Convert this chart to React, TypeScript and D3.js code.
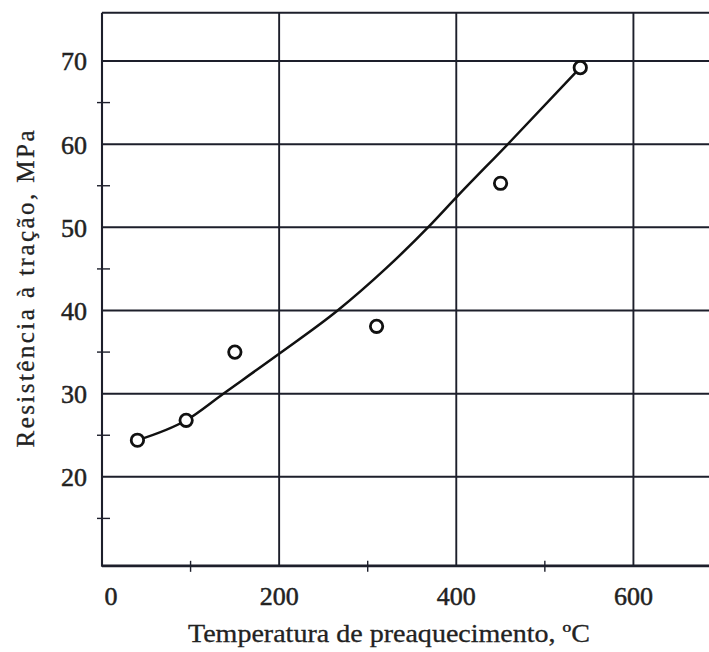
import React, { useEffect, useRef } from "react";
import * as d3 from "d3";

// Pontos medidos (temperatura de preaquecimento, resistência)
const temperaturas = [40, 95, 150, 310, 450, 540];
const resistencias = [24.4, 26.8, 35.0, 38.1, 55.3, 69.2];

// Curva de tendência
const curvaT = [40, 95, 137, 200, 266, 320, 370, 400, 460, 540];
const curvaR = [24.4, 26.8, 30.0, 34.8, 40.0, 45.0, 50.2, 53.6, 60.2, 69.2];

const xTicks = [0, 200, 400, 600];
const xMinorTicks = [100, 300, 500];
const yTicks = [20, 30, 40, 50, 60, 70];
const yMinorTicks = [15, 25, 35, 45, 55, 65];

const xTitle = "Temperatura de preaquecimento, ºC";
const yTitle = "Resistência à tração, MPa";

const W = 709;
const H = 652;
const ink = "#1d1f2b";
const font = "Liberation Serif, DejaVu Serif, serif";

const App = () => {
  const ref = useRef<SVGSVGElement>(null);

  useEffect(() => {
    const svg = d3.select(ref.current);
    svg.selectAll("*").remove();

    const x = d3.scaleLinear().domain([0, 700]).range([102, 102 + 700 * 0.8857]);
    const y = d3.scaleLinear().domain([10, 70]).range([560, 61]);
    const yTop = 75.8;
    const yBottom = 9.3;
    const left = x(0);
    const right = W + 10;

    const g = svg.append("g");

    // linhas de grade horizontais
    g.selectAll(".hgrid")
      .data(yTicks)
      .enter()
      .append("line")
      .attr("x1", left)
      .attr("x2", right)
      .attr("y1", (d) => y(d))
      .attr("y2", (d) => y(d))
      .attr("stroke", ink)
      .attr("stroke-width", 2);

    // linhas de grade verticais
    g.selectAll(".vgrid")
      .data(xTicks.filter((d) => d > 0))
      .enter()
      .append("line")
      .attr("x1", (d) => x(d))
      .attr("x2", (d) => x(d))
      .attr("y1", y(yTop))
      .attr("y2", y(yBottom))
      .attr("stroke", ink)
      .attr("stroke-width", 1.9);

    // moldura: topo, esquerda, base
    g.append("line")
      .attr("x1", left).attr("x2", right)
      .attr("y1", y(yTop)).attr("y2", y(yTop))
      .attr("stroke", ink).attr("stroke-width", 1.9);
    g.append("line")
      .attr("x1", left).attr("x2", left)
      .attr("y1", y(yTop)).attr("y2", y(yBottom) + 1)
      .attr("stroke", ink).attr("stroke-width", 2.1);
    g.append("line")
      .attr("x1", left).attr("x2", right)
      .attr("y1", y(yBottom)).attr("y2", y(yBottom))
      .attr("stroke", ink).attr("stroke-width", 2.8);

    // marcas menores
    g.selectAll(".ymin")
      .data(yMinorTicks)
      .enter()
      .append("line")
      .attr("x1", left - 5)
      .attr("x2", left + 8)
      .attr("y1", (d) => y(d))
      .attr("y2", (d) => y(d))
      .attr("stroke", ink)
      .attr("stroke-width", 1.4);
    g.selectAll(".xmin")
      .data(xMinorTicks)
      .enter()
      .append("line")
      .attr("x1", (d) => x(d))
      .attr("x2", (d) => x(d))
      .attr("y1", y(yBottom) - 5)
      .attr("y2", y(yBottom) + 6)
      .attr("stroke", ink)
      .attr("stroke-width", 1.4);

    // rótulos
    g.selectAll(".ylab")
      .data(yTicks)
      .enter()
      .append("text")
      .attr("x", 87)
      .attr("y", (d) => y(d))
      .attr("dy", "0.36em")
      .attr("text-anchor", "end")
      .attr("font-family", font)
      .attr("font-size", 26)
      .attr("fill", "#222")
      .attr("stroke", "#222")
      .attr("stroke-width", 0.5)
      .text((d) => d);

    g.selectAll(".xlab")
      .data(xTicks)
      .enter()
      .append("text")
      .attr("x", (d) => x(d) + (d === 0 ? 9 : 0))
      .attr("y", 605)
      .attr("text-anchor", "middle")
      .attr("font-family", font)
      .attr("font-size", 26)
      .attr("fill", "#222")
      .attr("stroke", "#222")
      .attr("stroke-width", 0.5)
      .text((d) => d);

    g.append("text")
      .attr("x", 389)
      .attr("y", 642)
      .attr("text-anchor", "middle")
      .attr("font-family", font)
      .attr("font-size", 25)
      .attr("fill", "#222")
      .attr("stroke", "#222")
      .attr("stroke-width", 0.3)
      .attr("textLength", 402)
      .attr("lengthAdjust", "spacingAndGlyphs")
      .text(xTitle);

    g.append("text")
      .attr("transform", "translate(34,289) rotate(-90)")
      .attr("text-anchor", "middle")
      .attr("font-family", font)
      .attr("font-size", 25)
      .attr("fill", "#222")
      .attr("stroke", "#222")
      .attr("stroke-width", 0.3)
      .attr("textLength", 317)
      .attr("lengthAdjust", "spacing")
      .text(yTitle);

    // curva
    const line = d3
      .line<number>()
      .x((d, i) => x(curvaT[i]))
      .y((d) => y(d))
      .curve(d3.curveMonotoneX);
    g.append("path")
      .datum(curvaR)
      .attr("d", line)
      .attr("fill", "none")
      .attr("stroke", "#111")
      .attr("stroke-width", 2.5);

    // pontos
    g.selectAll(".pt")
      .data(temperaturas)
      .enter()
      .append("circle")
      .attr("cx", (d) => x(d))
      .attr("cy", (d, i) => y(resistencias[i]))
      .attr("r", 6.2)
      .attr("fill", "#fff")
      .attr("stroke", "#111")
      .attr("stroke-width", 2.8);
  }, []);

  return (
    <svg
      ref={ref}
      width={W}
      height={H}
      style={{ position: "absolute", left: 0, top: 0, background: "#fff" }}
    />
  );
};

export default App;
